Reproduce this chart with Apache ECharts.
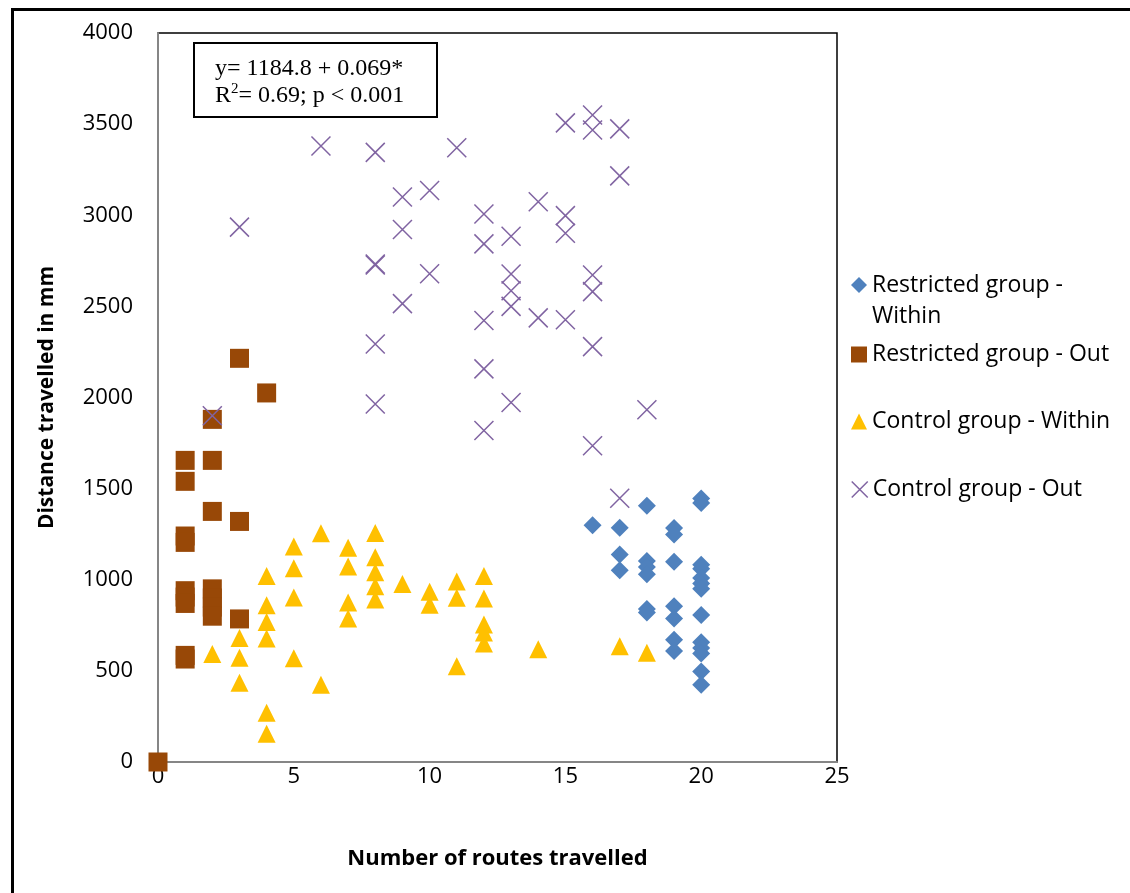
<!DOCTYPE html>
<html>
<head>
<meta charset="utf-8">
<script src="https://cdn.jsdelivr.net/npm/echarts@6/dist/echarts.min.js"></script>
<style>
  html, body { margin: 0; padding: 0; background: #fff; }
  #chart { width: 1130px; height: 893px; }
</style>
</head>
<body>
<div id="chart"></div>
<script>
// Axis ticks
const xTicks = [0, 5, 10, 15, 20, 25];
const yTicks = [0, 500, 1000, 1500, 2000, 2500, 3000, 3500, 4000];

// [number of routes, distance in mm]
const restrictedWithin = [
  [16, 1299], [17, 1285], [17, 1138], [17, 1052],
  [18, 1406], [18, 1103], [18, 1070], [18, 1030], [18, 840], [18, 820],
  [19, 1284], [19, 1248], [19, 1099], [19, 854], [19, 787], [19, 671], [19, 609],
  [20, 1446], [20, 1421], [20, 1082], [20, 1060], [20, 1010], [20, 980], [20, 950],
  [20, 806], [20, 657], [20, 625], [20, 596], [20, 496], [20, 424]
];
const restrictedOut = [
  [0, 0], [1, 1655], [1, 1540], [1, 1240], [1, 1205], [1, 940], [1, 905], [1, 870],
  [1, 585], [1, 565], [2, 1880], [2, 1655], [2, 1375], [2, 950], [2, 900], [2, 850],
  [2, 800], [3, 2215], [3, 1320], [3, 785], [4, 2025]
];
const controlWithin = [
  [2, 592], [3, 680], [3, 572], [3, 435], [4, 1020], [4, 860], [4, 768], [4, 677],
  [4, 270], [4, 155], [5, 1183], [5, 1063], [5, 903], [5, 569], [6, 1255], [6, 424],
  [7, 1175], [7, 1073], [7, 875], [7, 787], [8, 1256], [8, 1123], [8, 1041], [8, 964],
  [8, 891], [9, 977], [10, 934], [10, 863], [11, 990], [11, 901], [11, 525],
  [12, 1020], [12, 897], [12, 755], [12, 710], [12, 650], [14, 618], [17, 635], [18, 600]
];
const controlOut = [
  [2, 1900], [3, 2935], [6, 3380], [8, 3345], [8, 2727], [8, 2732], [8, 2294], [8, 1964],
  [9, 3100], [9, 2922], [9, 2515], [10, 3136], [10, 2679], [11, 3370],
  [12, 3007], [12, 2843], [12, 2422], [12, 2157], [12, 1819],
  [13, 2885], [13, 2678], [13, 2586], [13, 2500], [13, 1973],
  [14, 3074], [14, 2437], [15, 3507], [15, 2998], [15, 2901], [15, 2427],
  [16, 3550], [16, 3468], [16, 2672], [16, 2581], [16, 2279], [16, 1735],
  [17, 3474], [17, 3216], [17, 1447], [18, 1933]
];

const seriesNames = [
  'Restricted group - Within',
  'Restricted group - Out',
  'Control group - Within',
  'Control group - Out'
];
const seriesColors = ['#4F81BD', '#984807', '#FFC000', '#8064A2'];
const crossPath = 'path://M0 0L20 20M20 0L0 20';

const FONT = '"Open Sans", "DejaVu Sans", sans-serif';
const SERIF = '"Liberation Serif", "DejaVu Serif", serif';

const chart = echarts.init(document.getElementById('chart'), null, { renderer: 'canvas' });

function singleLegend(name, top, extra) {
  return Object.assign({
    data: [name],
    orient: 'vertical',
    left: 851,
    top: top,
    padding: 0,
    itemWidth: 16,
    itemHeight: 16,
    itemGap: 0,
    selectedMode: false,
    textStyle: { fontFamily: FONT, fontSize: 23, color: '#000', lineHeight: 16 }
  }, extra || {});
}

chart.setOption({
  animation: false,
  backgroundColor: '#fff',
  grid: {
    left: 158, right: 1130 - 837, top: 33, bottom: 893 - 762,
    outerBoundsMode: 'none',
    show: true, borderColor: '#000', borderWidth: 1.5, backgroundColor: 'transparent'
  },
  xAxis: {
    type: 'value',
    min: xTicks[0], max: xTicks[xTicks.length - 1], interval: xTicks[1] - xTicks[0],
    splitLine: { show: false },
    axisTick: { show: false },
    axisLine: { show: true, onZero: false, lineStyle: { color: '#868686', width: 2 } },
    axisLabel: { fontFamily: FONT, fontSize: 22, color: '#000', margin: 4, formatter: v => String(v) },
    name: 'Number of routes travelled',
    nameLocation: 'middle',
    nameGap: 86,
    nameTextStyle: { fontFamily: FONT, fontSize: 22, fontWeight: 'bold', color: '#000' }
  },
  yAxis: {
    type: 'value',
    min: yTicks[0], max: yTicks[yTicks.length - 1], interval: yTicks[1] - yTicks[0],
    splitLine: { show: false },
    axisTick: { show: false },
    axisLine: { show: true, onZero: false, lineStyle: { color: '#868686', width: 2 } },
    axisLabel: { fontFamily: FONT, fontSize: 22, color: '#000', margin: 25, formatter: v => String(v) },
    name: 'Distance travelled in mm',
    nameLocation: 'middle',
    nameRotate: 90,
    nameGap: 100,
    nameTextStyle: { fontFamily: FONT, fontSize: 21, fontWeight: 'bold', color: '#000' }
  },
  legend: [
    // blank first line keeps the marker level with the first line of the two-line label
    singleLegend(seriesNames[0], 238.5, {
      formatter: () => ' \nRestricted group -\nWithin',
      textStyle: { fontFamily: FONT, fontSize: 23, color: '#000', lineHeight: 31 }
    }),
    singleLegend(seriesNames[1], 353 - 10),
    singleLegend(seriesNames[2], 420 - 10),
    singleLegend(seriesNames[3], 488 - 10, {
      itemStyle: { color: 'transparent', borderColor: seriesColors[3], borderWidth: 1.5 }
    })
  ],
  series: [
    {
      name: seriesNames[0], type: 'scatter', data: restrictedWithin,
      symbol: 'diamond', symbolSize: 18,
      itemStyle: { color: seriesColors[0], opacity: 1 }
    },
    {
      name: seriesNames[1], type: 'scatter', data: restrictedOut,
      symbol: 'rect', symbolSize: 19,
      itemStyle: { color: seriesColors[1], opacity: 1 }
    },
    {
      name: seriesNames[2], type: 'scatter', data: controlWithin,
      symbol: 'triangle', symbolSize: 18,
      itemStyle: { color: seriesColors[2], opacity: 1 }
    },
    {
      name: seriesNames[3], type: 'scatter', data: controlOut,
      symbol: crossPath, symbolSize: 19,
      itemStyle: { color: 'transparent', borderColor: seriesColors[3], borderWidth: 1.5, opacity: 1 }
    }
  ],
  graphic: [
    {
      // outer chart frame
      type: 'rect', left: 10, top: 7, silent: true, z: 100,
      shape: { x: 0, y: 0, width: 1200, height: 1000 },
      style: { fill: 'none', stroke: '#000', lineWidth: 3 }
    },
    {
      // regression annotation box
      type: 'group', left: 193, top: 42, z: 50,
      children: [
        {
          type: 'rect',
          shape: { x: 0, y: 0, width: 243, height: 74 },
          style: { fill: '#fff', stroke: '#000', lineWidth: 2 }
        },
        {
          type: 'text', x: 21, y: 12,
          style: {
            text: 'y= 1184.8 + 0.069*\n{r|R}{sup|2}{r|= 0.69; p < 0.001}',
            font: '24px ' + SERIF,
            fill: '#000',
            lineHeight: 27,
            rich: {
              r: { font: '24px ' + SERIF, fill: '#000', lineHeight: 27 },
              sup: { font: '15px ' + SERIF, fill: '#000', verticalAlign: 'top', lineHeight: 27, padding: [0, 0, 8, 0] }
            }
          }
        }
      ]
    }
  ]
});
</script>
</body>
</html>
